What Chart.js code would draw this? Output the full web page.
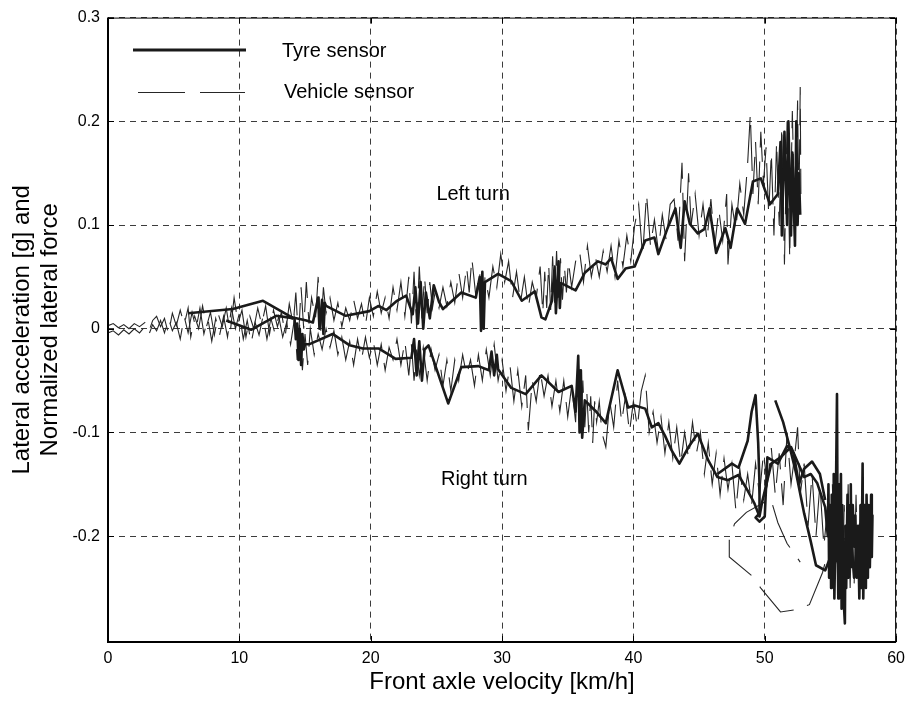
<!DOCTYPE html>
<html><head><meta charset="utf-8">
<script src="https://cdn.jsdelivr.net/npm/chart.js@4.4.1/dist/chart.umd.min.js"></script>
<style>html,body{margin:0;padding:0;background:#fff}#wrap{width:912px;height:702px}</style>
</head><body><div id="wrap"><canvas id="c" width="912" height="702"></canvas></div>
<script>
const xTickValues = [0, 10, 20, 30, 40, 50, 60];
const xTickLabels = ['0', '10', '20', '30', '40', '50', '60'];
const yTickValues = [-0.2, -0.1, 0, 0.1, 0.2, 0.3];
const yTickLabels = ['-0.2', '-0.1', '0', '0.1', '0.2', '0.3'];
const seriesNames = ['Tyre sensor', 'Vehicle sensor'];
const xTitle = 'Front axle velocity [km/h]';
const yTitle = ['Lateral acceleration [g] and', 'Normalized lateral force'];
const notes = ['Left turn', 'Right turn'];

// Tyre sensor, left turn (thick)
const tyreLeft = [[6.1,0.015],[9.5,0.019],[11.8,0.027],[14.0,0.011],[15.1,0.008],[15.6,0.006],[16.0,0.03],[16.1,0.0],[16.3,0.028],[16.4,-0.005],[16.5,0.025],[16.6,0.022],[18.1,0.0125],[19.9,0.017],[20.6,0.022],[21.2,0.018],[22.0,0.027],[22.7,0.032],[23.2,0.014],[23.4,0.04],[23.6,0.005],[23.8,0.045],[24.0,0.0],[24.2,0.035],[24.5,0.01],[24.8,0.042],[25.2,0.026],[25.5,0.019],[26.9,0.035],[28.0,0.03],[28.3,0.05],[28.4,-0.002],[28.5,0.055],[28.6,0.0],[28.7,0.045],[29.7,0.053],[30.7,0.046],[31.5,0.027],[32.5,0.036],[33.0,0.011],[33.3,0.009],[33.8,0.027],[34.0,0.06],[34.1,0.015],[34.3,0.065],[34.4,0.02],[34.5,0.044],[35.6,0.037],[36.3,0.054],[37.3,0.065],[37.9,0.062],[38.3,0.068],[38.8,0.048],[39.4,0.058],[40.1,0.06],[40.9,0.085],[41.6,0.088],[41.9,0.072],[42.6,0.097],[43.2,0.116],[43.6,0.078],[43.9,0.123],[44.3,0.101],[44.9,0.092],[45.4,0.096],[45.8,0.116],[46.3,0.073],[47.0,0.097],[47.4,0.078],[47.9,0.116],[48.5,0.101],[49.1,0.142],[49.7,0.145],[50.4,0.12],[51.0,0.13],[51.2,0.18],[51.3,0.09],[51.5,0.19],[51.7,0.1],[51.8,0.2],[52.0,0.09],[52.1,0.17],[52.3,0.08],[52.4,0.2],[52.5,0.1],[52.6,0.15],[52.7,0.11]];

// Tyre sensor, right turn (thick)
const tyreRight = [[9.0,0.008],[10.9,-0.001],[12.8,0.0125],[14.2,0.01],[14.3,-0.01],[14.4,0.005],[14.5,-0.03],[14.6,0.0],[14.7,-0.035],[14.8,-0.005],[14.9,-0.02],[15.0,-0.015],[15.3,-0.015],[17.1,-0.005],[18.4,-0.016],[19.4,-0.019],[20.6,-0.019],[21.9,-0.029],[23.1,-0.028],[23.3,-0.01],[23.5,-0.045],[23.7,-0.012],[23.9,-0.05],[24.1,-0.02],[24.4,-0.016],[25.9,-0.072],[26.9,-0.037],[28.2,-0.036],[29.0,-0.04],[29.2,-0.022],[29.4,-0.045],[29.6,-0.025],[29.7,-0.039],[30.7,-0.057],[31.8,-0.063],[33.0,-0.045],[34.3,-0.061],[35.3,-0.055],[35.6,-0.08],[35.8,-0.026],[35.9,-0.1],[36.0,-0.04],[36.1,-0.105],[36.3,-0.069],[37.1,-0.079],[37.9,-0.091],[38.8,-0.04],[39.6,-0.076],[40.1,-0.074],[40.9,-0.077],[41.4,-0.095],[41.9,-0.091],[42.4,-0.103],[42.9,-0.117],[43.5,-0.13],[44.2,-0.114],[44.9,-0.101],[45.7,-0.127],[46.4,-0.143],[47.2,-0.146],[48.0,-0.141],[48.7,-0.156],[49.2,-0.168],[49.6,-0.181],[49.8,-0.167],[50.5,-0.13],[51.2,-0.124],[52.0,-0.114],[53.0,-0.143],[53.5,-0.14],[54.0,-0.149],[54.6,-0.172],[54.8,-0.2],[54.85,-0.15],[54.9,-0.24],[55.0,-0.17],[55.05,-0.25],[55.1,-0.16],[55.2,-0.23],[55.25,-0.14],[55.3,-0.26],[55.4,-0.18],[55.5,-0.063],[55.55,-0.21],[55.6,-0.26],[55.65,-0.15],[55.7,-0.25],[55.8,-0.14],[55.85,-0.27],[55.9,-0.17],[56.0,-0.26],[56.1,-0.284],[56.15,-0.19],[56.2,-0.25],[56.3,-0.16],[56.35,-0.24],[56.4,-0.17],[56.5,-0.23],[56.55,-0.15],[56.6,-0.22],[56.7,-0.17],[56.8,-0.21],[56.9,-0.18],[57.0,-0.24],[57.1,-0.19],[57.2,-0.26],[57.3,-0.17],[57.35,-0.25],[57.45,-0.13],[57.5,-0.26],[57.6,-0.17],[57.7,-0.25],[57.75,-0.16],[57.85,-0.24],[57.9,-0.17],[58.0,-0.23],[58.1,-0.16],[58.15,-0.22],[58.2,-0.18],[58.0,-0.21],[57.7,-0.19],[57.4,-0.23],[57.1,-0.2],[56.8,-0.24],[56.5,-0.19],[56.2,-0.23],[55.9,-0.2],[55.6,-0.23],[55.3,-0.2],[55.0,-0.22]];

// Tyre sensor, extra passes near 50 km/h (thick)
const tyrePeak = [[46.4,-0.14],[47.5,-0.13],[48.0,-0.134],[48.7,-0.108],[49.0,-0.08],[49.3,-0.064],[49.5,-0.11],[49.6,-0.15],[49.6,-0.178],[49.3,-0.182],[49.6,-0.186],[50.0,-0.181],[50.2,-0.124],[51.0,-0.13],[51.7,-0.113],[52.2,-0.12],[52.6,-0.15],[53.0,-0.135],[53.6,-0.128],[54.2,-0.14],[54.6,-0.165]];
const tyreDiag = [[50.8,-0.069],[51.4,-0.09],[51.9,-0.114],[52.4,-0.14],[53.0,-0.178],[53.5,-0.205],[53.9,-0.228],[54.6,-0.233],[55.0,-0.22]];

// Vehicle sensor, left turn (thin, dashed)
const vehLeft = [[0,0.003],[0.4,0.005],[0.8,0.001],[1.2,0.004],[1.6,0.0],[2.0,0.005],[2.4,0.002],[2.8,0.006],[3.1,-0.003],[3.4,0.008],[3.7,0.012],[4.0,0.002],[4.3,0.01],[4.6,-0.005],[4.9,0.015],[5.2,0.003],[5.5,0.018],[5.8,0.004],[6.1,0.02],[6.3,-0.008],[6.6,0.012],[6.9,0.0],[7.2,0.022],[7.5,0.002],[7.8,0.016],[8.1,-0.006],[8.4,0.014],[8.7,0.002],[9.0,0.02],[9.3,-0.004],[9.6,0.03],[9.9,0.005],[10.2,0.018],[10.5,-0.008],[10.8,0.012],[11.1,0.0],[11.4,0.02],[11.7,0.004],[12.0,0.022],[12.3,-0.005],[12.6,0.018],[12.9,0.002],[13.2,0.016],[13.5,-0.006],[13.8,0.024],[14.1,0.004],[14.3,0.035],[14.5,-0.01],[14.7,0.04],[14.9,0.0],[15.1,0.045],[15.3,0.005],[15.5,0.03],[15.8,0.01],[16.0,0.05],[16.2,-0.002],[16.4,0.04],[16.6,0.015],[16.9,0.03],[17.2,0.008],[17.5,0.025],[17.8,0.002],[18.1,0.02],[18.4,0.008],[18.7,0.028],[19.0,0.01],[19.3,0.024],[19.6,0.003],[19.9,0.03],[20.2,0.012],[20.5,0.036],[20.8,0.015],[21.1,0.03],[21.4,0.01],[21.7,0.04],[22.0,0.018],[22.3,0.045],[22.6,0.012],[22.9,0.05],[23.1,0.005],[23.3,0.055],[23.5,0.0],[23.7,0.06],[23.9,0.01],[24.1,0.05],[24.3,0.015],[24.5,0.045],[24.7,0.02],[24.9,0.035],[25.2,0.02],[25.5,0.04],[25.8,0.022],[26.1,0.045],[26.4,0.025],[26.7,0.055],[27.0,0.03],[27.3,0.06],[27.5,0.035],[27.7,0.068],[28.0,0.032],[28.3,0.055],[28.5,0.0],[28.7,0.05],[29.0,0.03],[29.3,0.06],[29.6,0.04],[29.9,0.072],[30.2,0.045],[30.5,0.065],[30.8,0.03],[31.1,0.055],[31.4,0.025],[31.7,0.05],[32.0,0.02],[32.3,0.045],[32.6,0.03],[32.9,0.06],[33.1,0.015],[33.25,0.055],[33.4,0.02],[33.55,0.062],[33.7,0.018],[33.85,0.07],[34.0,0.025],[34.15,0.075],[34.3,0.03],[34.45,0.068],[34.6,0.028],[34.75,0.06],[34.9,0.035],[35.05,0.065],[35.3,0.04],[35.6,0.065],[35.9,0.075],[36.2,0.045],[36.5,0.08],[36.8,0.05],[37.1,0.07],[37.4,0.05],[37.7,0.075],[38.0,0.055],[38.3,0.08],[38.6,0.05],[38.9,0.085],[39.2,0.06],[39.5,0.09],[39.8,0.065],[40.1,0.1],[40.4,0.12],[40.7,0.07],[41.0,0.13],[41.3,0.08],[41.6,0.105],[41.9,0.075],[42.2,0.11],[42.5,0.085],[42.8,0.12],[43.1,0.125],[43.4,0.085],[43.7,0.16],[43.9,0.065],[44.2,0.15],[44.4,0.1],[44.7,0.13],[45.0,0.09],[45.3,0.12],[45.6,0.085],[45.9,0.125],[46.2,0.08],[46.5,0.115],[46.8,0.085],[47.1,0.13],[47.2,0.062],[47.5,0.12],[47.8,0.095],[48.1,0.14],[48.4,0.11],[48.7,0.16],[48.9,0.207],[49.1,0.13],[49.3,0.18],[49.5,0.12],[49.7,0.19],[49.9,0.14],[50.1,0.175],[50.3,0.11],[50.5,0.17],[50.7,0.09],[50.9,0.18],[51.1,0.1],[51.3,0.195],[51.5,0.062],[51.7,0.2],[51.9,0.068],[52.1,0.21],[52.3,0.09],[52.5,0.22],[52.6,0.11],[52.7,0.233],[52.75,0.13]];

// Vehicle sensor, right turn (thin, dashed)
const vehRight = [[0,-0.004],[0.4,-0.002],[0.8,-0.006],[1.2,-0.001],[1.6,-0.005],[2.0,0.0],[2.4,-0.004],[2.8,0.002],[3.1,-0.006],[3.4,0.004],[3.7,-0.002],[4.0,0.008],[4.3,-0.004],[4.6,0.01],[4.9,-0.002],[5.2,0.006],[5.5,-0.01],[5.8,0.012],[6.1,-0.004],[6.4,0.016],[6.7,0.0],[7.0,0.02],[7.3,-0.005],[7.6,0.01],[7.9,-0.012],[8.2,0.01],[8.5,-0.006],[8.8,0.012],[9.1,-0.008],[9.4,0.02],[9.7,0.0],[10.0,0.015],[10.3,-0.01],[10.6,0.008],[10.9,-0.014],[11.2,0.006],[11.5,-0.006],[11.8,0.012],[12.1,-0.01],[12.4,0.01],[12.7,-0.004],[13.0,0.012],[13.3,-0.008],[13.6,0.006],[13.9,-0.015],[14.2,0.01],[14.4,-0.03],[14.6,0.005],[14.8,-0.04],[15.0,-0.005],[15.2,-0.035],[15.4,0.0],[15.7,-0.025],[16.0,-0.005],[16.3,-0.02],[16.6,0.0],[16.9,-0.018],[17.2,-0.002],[17.5,-0.025],[17.8,-0.008],[18.1,-0.03],[18.4,-0.012],[18.7,-0.035],[19.0,-0.01],[19.3,-0.03],[19.6,-0.008],[19.9,-0.028],[20.2,-0.012],[20.5,-0.035],[20.8,-0.015],[21.1,-0.04],[21.4,-0.018],[21.7,-0.03],[22.0,-0.01],[22.3,-0.035],[22.6,-0.012],[22.9,-0.045],[23.1,-0.015],[23.3,-0.05],[23.5,-0.02],[23.7,-0.045],[24.0,-0.018],[24.3,-0.05],[24.6,-0.02],[24.9,-0.04],[25.2,-0.025],[25.5,-0.055],[25.8,-0.03],[26.1,-0.06],[26.4,-0.03],[26.7,-0.05],[27.0,-0.025],[27.3,-0.045],[27.6,-0.03],[27.9,-0.055],[28.2,-0.025],[28.5,-0.05],[28.8,-0.02],[29.1,-0.045],[29.4,-0.015],[29.7,-0.05],[30.0,-0.03],[30.3,-0.06],[30.6,-0.035],[30.9,-0.07],[31.2,-0.04],[31.5,-0.075],[31.8,-0.045],[32.0,-0.098],[32.3,-0.05],[32.6,-0.07],[32.9,-0.04],[33.2,-0.065],[33.5,-0.045],[33.8,-0.075],[34.1,-0.05],[34.4,-0.08],[34.7,-0.05],[35.0,-0.085],[35.3,-0.055],[35.6,-0.09],[35.8,-0.028],[36.0,-0.1],[36.15,-0.05],[36.3,-0.095],[36.45,-0.06],[36.6,-0.1],[36.75,-0.065],[36.9,-0.11],[37.05,-0.07],[37.2,-0.09],[37.4,-0.07],[37.6,-0.1],[37.9,-0.114],[38.2,-0.07],[38.5,-0.095],[38.8,-0.05],[39.1,-0.09],[39.4,-0.065],[39.7,-0.1],[40.0,-0.07],[40.3,-0.095],[40.6,-0.06],[40.9,-0.045],[41.2,-0.1],[41.5,-0.08],[41.8,-0.11],[42.1,-0.085],[42.4,-0.12],[42.7,-0.09],[43.0,-0.125],[43.3,-0.095],[43.6,-0.13],[43.9,-0.1],[44.2,-0.125],[44.5,-0.09],[44.8,-0.12],[45.1,-0.1],[45.4,-0.14],[45.7,-0.11],[46.0,-0.15],[46.3,-0.12],[46.6,-0.16],[46.9,-0.125],[47.2,-0.155],[47.5,-0.13],[47.8,-0.175],[48.1,-0.135],[48.4,-0.165],[48.7,-0.14],[49.0,-0.17],[49.3,-0.13],[49.6,-0.16],[49.9,-0.12],[50.2,-0.15],[50.5,-0.115],[50.8,-0.16],[51.1,-0.12],[51.4,-0.17],[51.7,-0.1],[52.0,-0.15],[52.3,-0.12],[52.5,-0.095],[52.7,-0.16],[53.0,-0.13],[53.3,-0.19],[53.6,-0.14],[53.9,-0.2],[54.2,-0.15],[54.5,-0.21],[54.8,-0.17],[55.0,-0.23],[55.15,-0.15],[55.3,-0.25],[55.45,-0.17],[55.6,-0.26],[55.75,-0.18],[55.9,-0.25],[56.05,-0.17],[56.2,-0.24],[56.35,-0.15],[56.5,-0.25],[56.65,-0.17],[56.8,-0.25],[56.95,-0.16],[57.1,-0.24],[57.25,-0.17],[57.4,-0.24],[57.55,-0.18],[57.7,-0.25],[57.85,-0.18],[58.0,-0.22],[57.5,-0.2],[56.5,-0.21],[55.6,-0.195],[54.8,-0.216],[54.4,-0.235],[53.4,-0.266],[52.3,-0.271],[51.2,-0.273],[49.7,-0.25],[49.0,-0.238],[47.3,-0.22],[47.3,-0.204],[47.7,-0.188],[48.6,-0.177],[50.0,-0.167]];
const vehSegment = [[50.6,-0.17],[51.0,-0.187],[51.7,-0.207],[52.7,-0.225]];

const toPts = a => a.map(p => ({x: p[0], y: p[1]}));
const TYRE_COLOR = '#1a1a1a', VEH_COLOR = '#262626';
const thick = (label, arr) => ({label, data: toPts(arr), borderColor: TYRE_COLOR, borderWidth: 2.6, pointRadius: 0, showLine: true, tension: 0, fill: false, borderJoinStyle: 'round'});
const thin = (label, arr) => ({label, data: toPts(arr), borderColor: VEH_COLOR, borderWidth: 1.1, borderDash: [46, 14], pointRadius: 0, showLine: true, tension: 0, fill: false});

const FONT = "'Liberation Sans', Arial, sans-serif";

const overlay = {
  id: 'overlay',
  afterDatasetsDraw(chart) {
    const {ctx, chartArea: a, scales: {x, y}} = chart;
    ctx.save();
    ctx.strokeStyle = '#000';
    ctx.lineWidth = 1;
    ctx.strokeRect(a.left + 0.5, a.top + 0.5, a.right - a.left - 1, a.bottom - a.top - 1);
    ctx.lineWidth = 2;
    ctx.beginPath();
    ctx.moveTo(a.left, a.top); ctx.lineTo(a.left, a.bottom); ctx.lineTo(a.right, a.bottom);
    ctx.stroke();
    ctx.lineWidth = 1;
    ctx.beginPath();
    xTickValues.forEach(v => { const px = Math.round(x.getPixelForValue(v)) + 0.5; ctx.moveTo(px, a.bottom); ctx.lineTo(px, a.bottom - 6); ctx.moveTo(px, a.top); ctx.lineTo(px, a.top + 6); });
    yTickValues.forEach(v => { const py = Math.round(y.getPixelForValue(v)) + 0.5; ctx.moveTo(a.left, py); ctx.lineTo(a.left + 6, py); ctx.moveTo(a.right, py); ctx.lineTo(a.right - 6, py); });
    ctx.stroke();
    // legend
    ctx.strokeStyle = TYRE_COLOR; ctx.lineWidth = 2.8;
    ctx.beginPath(); ctx.moveTo(133, 50); ctx.lineTo(246, 50); ctx.stroke();
    ctx.strokeStyle = VEH_COLOR; ctx.lineWidth = 1;
    ctx.beginPath(); ctx.moveTo(138, 92.5); ctx.lineTo(185, 92.5); ctx.moveTo(200, 92.5); ctx.lineTo(245, 92.5); ctx.stroke();
    ctx.fillStyle = '#000';
    ctx.font = '20px ' + FONT;
    ctx.textBaseline = 'alphabetic';
    ctx.textAlign = 'left';
    ctx.fillText(seriesNames[0], 282, 56.5);
    ctx.fillText(seriesNames[1], 284, 98);
    // annotations
    ctx.fillText(notes[0], x.getPixelForValue(25.0), y.getPixelForValue(0.124));
    ctx.fillText(notes[1], x.getPixelForValue(25.35), y.getPixelForValue(-0.151));
    ctx.restore();
  }
};

new Chart(document.getElementById('c'), {
  type: 'scatter',
  data: {
    datasets: [
      thick(seriesNames[0], tyreLeft),
      thick(seriesNames[0], tyreRight),
      thick(seriesNames[0], tyrePeak),
      thick(seriesNames[0], tyreDiag),
      thin(seriesNames[1], vehLeft),
      thin(seriesNames[1], vehRight),
      thin(seriesNames[1], vehSegment)
    ]
  },
  options: {
    responsive: false,
    devicePixelRatio: 1,
    animation: false,
    layout: {padding: {top: 16, right: 13, left: 0, bottom: 0}},
    plugins: {legend: {display: false}, tooltip: {enabled: false}},
    scales: {
      x: {
        type: 'linear', min: 0, max: 60,
        afterBuildTicks: s => { s.ticks = xTickValues.map(v => ({value: v})); },
        afterFit: s => { s.height = 60; },
        ticks: {callback: (v, i) => xTickLabels[i], color: '#000', font: {family: FONT, size: 16}, maxRotation: 0, autoSkip: false, padding: 7},
        grid: {color: '#3c3c3c', lineWidth: 1, drawTicks: false},
        border: {display: false, dash: [6, 5]},
        title: {display: true, text: xTitle, color: '#000', font: {family: FONT, size: 24}, padding: {top: 0, bottom: 5}}
      },
      y: {
        type: 'linear', min: -0.302, max: 0.3,
        afterBuildTicks: s => { s.ticks = yTickValues.map(v => ({value: v})); },
        afterFit: s => { s.width = 108; },
        ticks: {callback: (v, i) => yTickLabels[i], color: '#000', font: {family: FONT, size: 16}, padding: 8},
        grid: {color: '#3c3c3c', lineWidth: 1, drawTicks: false},
        border: {display: false, dash: [6, 5]},
        title: {display: true, text: yTitle, color: '#000', font: {family: FONT, size: 24, lineHeight: 1.17}, padding: {top: 8, bottom: 0}}
      }
    }
  },
  plugins: [overlay]
});
</script></body></html>
